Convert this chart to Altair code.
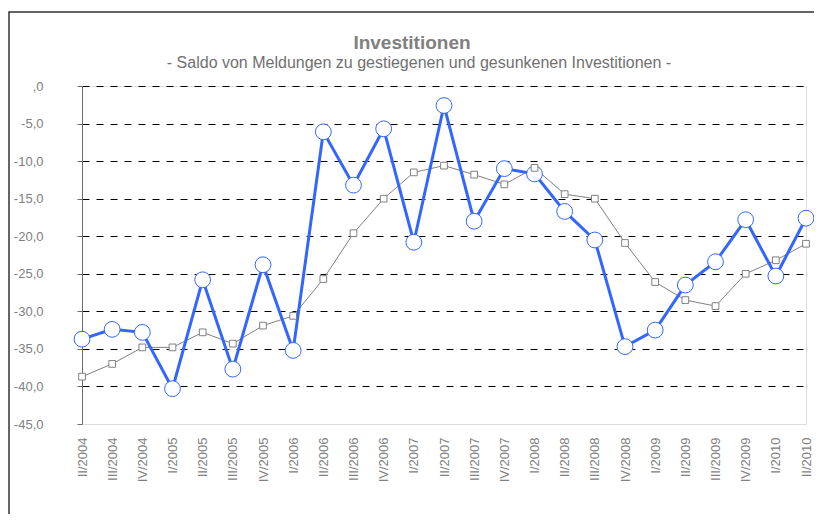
import altair as alt
import pandas as pd

quarters = ["II/2004", "III/2004", "IV/2004",
            "I/2005", "II/2005", "III/2005", "IV/2005",
            "I/2006", "II/2006", "III/2006", "IV/2006",
            "I/2007", "II/2007", "III/2007", "IV/2007",
            "I/2008", "II/2008", "III/2008", "IV/2008",
            "I/2009", "II/2009", "III/2009", "IV/2009",
            "I/2010", "II/2010"]

saldo_blue = [-33.7, -32.4, -32.8, -40.3, -25.8, -37.7, -23.8,
              -35.2, -6.1, -13.2, -5.7, -20.8, -2.6, -18.0, -11.0,
              -11.7, -16.7, -20.5, -34.7, -32.5, -26.5, -23.4, -17.8,
              -25.3, -17.6]

saldo_gray = [-38.7, -37.0, -34.8, -34.8, -32.8, -34.3, -31.9,
              -30.6, -25.7, -19.6, -15.0, -11.5, -10.6, -11.8, -13.1,
              -10.9, -14.4, -15.0, -20.9, -26.1, -28.5, -29.3, -25.0,
              -23.2, -21.0]

y_ticks = [0, -5, -10, -15, -20, -25, -30, -35, -40, -45]

title_text = "Investitionen"
subtitle_text = "- Saldo von Meldungen zu gestiegenen und gesunkenen Investitionen -"

df_blue = pd.DataFrame({"q": quarters, "v": saldo_blue})
df_gray = pd.DataFrame({"q": quarters, "v": saldo_gray})
one = pd.DataFrame({"a": [0]})

W, H = 724, 338
BLUE = "#3366ff"
GRAY = "#808080"
FONT = "Liberation Sans"

x_enc = alt.X("q:N", sort=quarters, title=None,
              scale=alt.Scale(type="point", padding=0),
              axis=alt.Axis(domain=False, ticks=False, labelAngle=-90,
                            labelAlign="right", labelBaseline="middle",
                            labelPadding=13, labelFontSize=13,
                            labelColor=GRAY, labelFont=FONT,
                            labelOverlap=False, grid=False))
y_enc = alt.Y("v:Q", title=None,
              scale=alt.Scale(domain=[-45, 0], nice=False, zero=False),
              axis=alt.Axis(values=y_ticks, domainColor="#6b6b6b",
                            tickColor="#6b6b6b", tickSize=5,
                            labelFontSize=13, labelColor=GRAY, labelFont=FONT,
                            labelPadding=34,
                            labelExpr="datum.value == 0 ? ',0' : '-' + replace(format(abs(datum.value), '.1f'), '.', ',')",
                            grid=True, gridColor="#000000", gridDash=[7, 7],
                            gridWidth=1,
                            gridOpacity={"condition": {"test": "datum.value == -45", "value": 0}, "value": 1}))

gray_line = alt.Chart(df_gray).mark_line(color=GRAY, strokeWidth=1).encode(x=x_enc, y=y_enc)
blue_line = alt.Chart(df_blue).mark_line(color=BLUE, strokeWidth=3).encode(x=x_enc, y=y_enc)
blue_pts = alt.Chart(df_blue).mark_point(shape="circle", size=250, filled=True,
                                         fill="white", stroke=BLUE, strokeWidth=1,
                                         opacity=1).encode(x=x_enc, y=y_enc)
gray_pts = alt.Chart(df_gray).mark_point(shape="square", size=45, filled=True,
                                         fill="white", stroke=GRAY, strokeWidth=1,
                                         opacity=1).encode(x=x_enc, y=y_enc)

frame = alt.Chart(one).mark_rect(
    fill=None, stroke="#333333", strokeWidth=1.5).encode(
    x=alt.value(-73), x2=alt.value(800), y=alt.value(-74), y2=alt.value(600))

title_mark = alt.Chart(one).mark_text(
    text=title_text, font=FONT, fontSize=19, fontWeight="bold", color=GRAY,
    align="center", baseline="alphabetic").encode(
    x=alt.value(330), y=alt.value(-37))
subtitle_mark = alt.Chart(one).mark_text(
    text=subtitle_text, font=FONT, fontSize=16, color="#707070",
    align="center", baseline="alphabetic").encode(
    x=alt.value(337), y=alt.value(-18))

chart = alt.layer(frame, title_mark, subtitle_mark, gray_line, blue_line,
                  blue_pts, gray_pts).properties(
    width=W, height=H,
    autosize=alt.AutoSizeParams(type="none"),
    padding={"left": 74, "top": 78, "right": 8, "bottom": 90},
).configure_view(stroke=None).configure(background="white")

chart.save("out.html", embed_options={"renderer": "svg", "actions": False})
